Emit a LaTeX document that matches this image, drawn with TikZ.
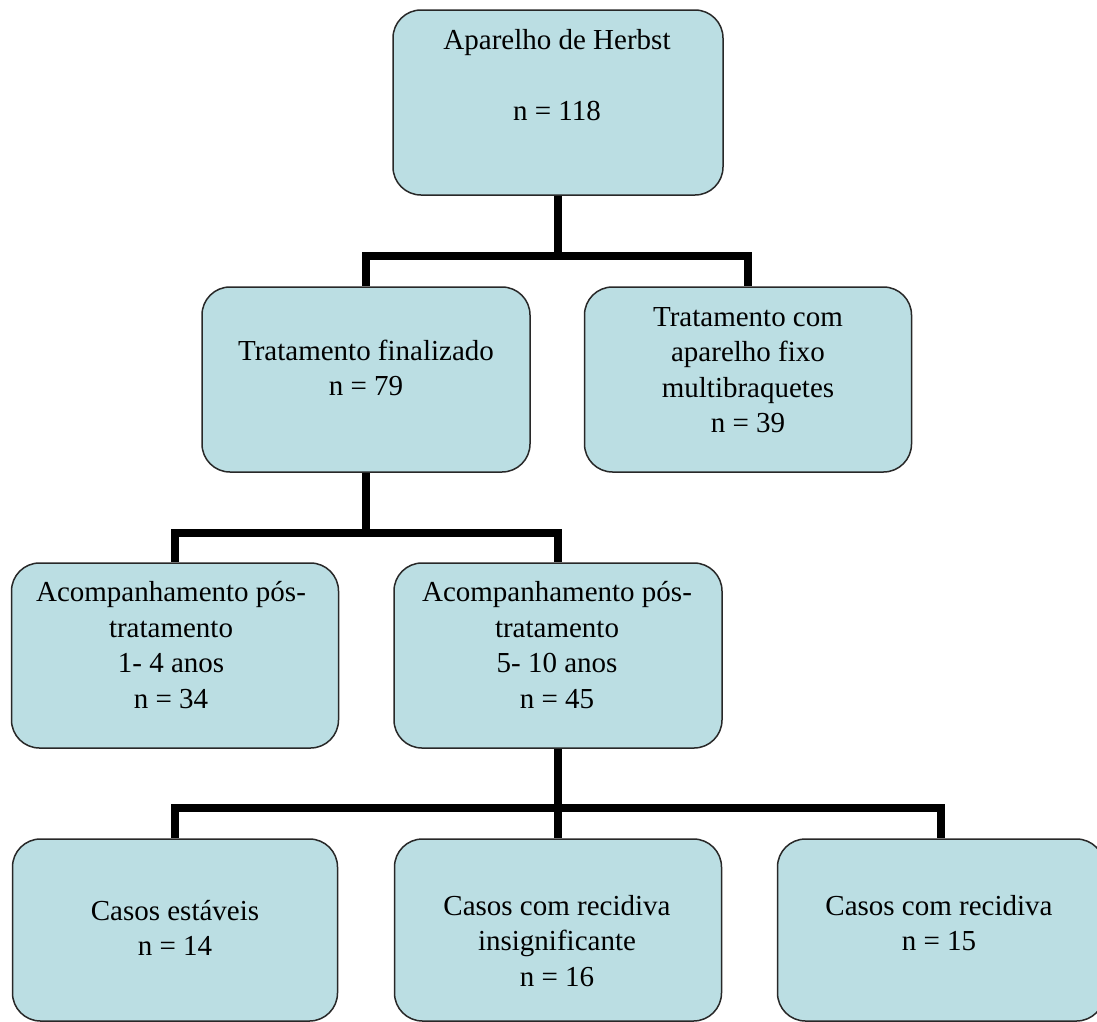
\documentclass[tikz,border=0pt]{standalone}
\usepackage{fontspec}
\setmainfont{Liberation Serif}
\definecolor{boxfill}{RGB}{187,222,227}
\definecolor{boxline}{RGB}{40,40,40}
\begin{document}
\begin{tikzpicture}[x=1pt,y=-1pt,
  box/.style={draw=boxline, line width=1.5pt, fill=boxfill, rounded corners=28pt, inner sep=0pt},
  txt/.style={align=center, inner sep=0pt, font=\fontsize{29}{35.5}\selectfont},
  conn/.style={draw=black, line width=8pt}]
\useasboundingbox (0,0) rectangle (1097,1021);
\fill[white] (0,0) rectangle (1097,1021);
% boxes
\node[box, minimum width=330pt, minimum height=185pt] (b1) at (558,102.5) {};
\node[box, minimum width=328pt, minimum height=185pt] (b2) at (366,379.5) {};
\node[box, minimum width=327pt, minimum height=185pt] (b3) at (748,379.5) {};
\node[box, minimum width=327pt, minimum height=185pt] (b4) at (175,655.5) {};
\node[box, minimum width=328pt, minimum height=185pt] (b5) at (558,655.5) {};
\node[box, minimum width=325pt, minimum height=182pt] (b6) at (175,930) {};
\node[box, minimum width=327pt, minimum height=182pt] (b7) at (558,930) {};
\node[box, minimum width=327pt, minimum height=182pt] (b8) at (941,930) {};
% texts
\node[txt] (t1) at (557,75) {Aparelho de Herbst\\[35.5pt] n = 118};
\node[txt] (t2) at (366,368) {Tratamento finalizado\\ n = 79};
\node[txt] (t3) at (748,370) {Tratamento com\\ aparelho fixo\\ multibraquetes\\ n = 39};
\node[txt] (t4) at (171,645) {Acompanhamento pós-\\ tratamento\\ 1- 4 anos\\ n = 34};
\node[txt] (t5) at (557,645) {Acompanhamento pós-\\ tratamento\\ 5- 10 anos\\ n = 45};
\node[txt] (t6) at (175,928) {Casos estáveis\\ n = 14};
\node[txt] (t7) at (557,941) {Casos com recidiva\\ insignificante\\ n = 16};
\node[txt] (t8) at (939,923) {Casos com recidiva\\ n = 15};
% connectors
\coordinate (j1) at (b1.south |- 0,256);
\coordinate (j2) at (b2.south |- 0,533);
\coordinate (j3) at (b5.south |- 0,808);
\draw[conn] (b1.south) -- (j1);
\draw[conn] (j1) -| (b2.north);
\draw[conn] (j1) -| (b3.north);
\draw[conn] (b2.south) -- (j2);
\draw[conn] (j2) -| (b4.north);
\draw[conn] (j2) -| (b5.north);
\draw[conn] (b5.south) -- (j3);
\draw[conn] (j3) -| (b6.north);
\draw[conn] (j3) -- (b7.north);
\draw[conn] (j3) -| (b8.north);
\end{tikzpicture}
\end{document}
